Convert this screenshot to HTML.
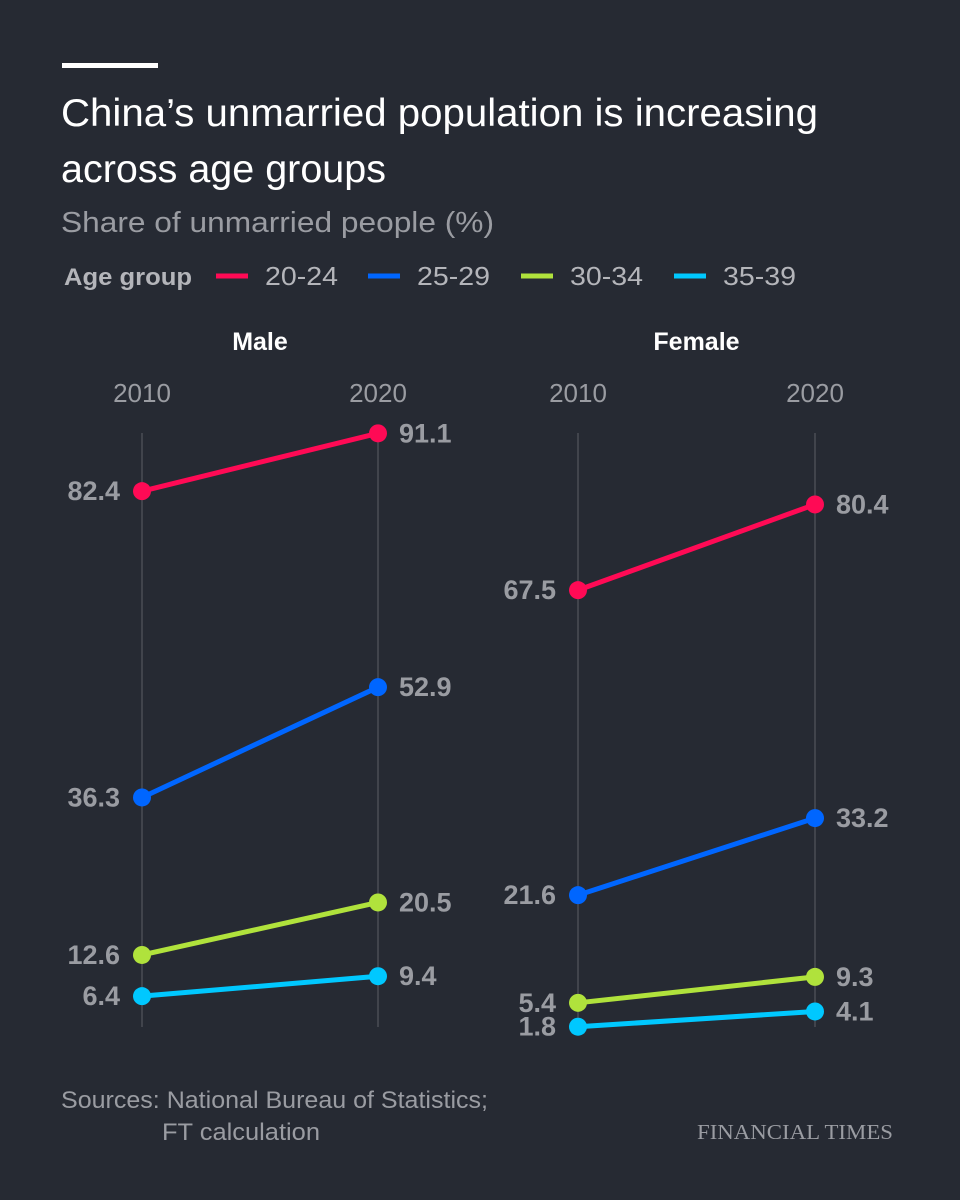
<!DOCTYPE html>
<html><head><meta charset="utf-8"><style>
body{margin:0;background:#262a33;width:960px;height:1200px;overflow:hidden;font-family:"Liberation Sans",sans-serif}
svg{display:block}
</style></head><body>
<svg width="960" height="1200">
<rect x="62" y="63" width="96" height="5" fill="#ffffff"/>
<text x="61" y="126" font-size="39" fill="#ffffff" textLength="757" lengthAdjust="spacingAndGlyphs">China’s unmarried population is increasing</text>
<text x="61" y="182" font-size="39" fill="#ffffff" textLength="325" lengthAdjust="spacingAndGlyphs">across age groups</text>
<text x="61" y="232" font-size="29" fill="#9a9ca2" textLength="433" lengthAdjust="spacingAndGlyphs">Share of unmarried people (%)</text>
<g id="legend">
<text x="64" y="285" font-size="24" font-weight="bold" fill="#b4b5ba" textLength="128" lengthAdjust="spacingAndGlyphs">Age group</text>
</g>
<g id="panels"></g>
<text x="61" y="1108" font-size="24" fill="#9a9ca2" textLength="427" lengthAdjust="spacingAndGlyphs">Sources: National Bureau of Statistics;</text>
<text x="162" y="1140" font-size="24" fill="#9a9ca2" textLength="158" lengthAdjust="spacingAndGlyphs">FT calculation</text>
<text x="697" y="1139" font-size="21" fill="#9a9ca2" textLength="196" lengthAdjust="spacingAndGlyphs" font-family="Liberation Serif, serif">FINANCIAL TIMES</text>
</svg>
<script>
const groups=["20-24","25-29","30-34","35-39"];
const colors=["#ff0a55","#0066ff","#b0e23c","#00c8ff"];
const years=["2010","2020"];
const male2010=[82.4,36.3,12.6,6.4];
const male2020=[91.1,52.9,20.5,9.4];
const female2010=[67.5,21.6,5.4,1.8];
const female2020=[80.4,33.2,9.3,4.1];
const NS="http://www.w3.org/2000/svg";
function mk(tag,attrs,parent,text){const e=document.createElementNS(NS,tag);for(const k in attrs)e.setAttribute(k,attrs[k]);if(text!=null)e.textContent=text;parent.appendChild(e);return e;}
const y=v=>1038.7-v*6.645;
const lg=document.getElementById('legend');
const lx=[216,368,521,674];
groups.forEach((g,i)=>{
 const l=mk('line',{x1:lx[i],x2:lx[i]+32,y1:276,y2:276,stroke:colors[i],'stroke-width':5},lg);
 
 
 const t=mk('text',{x:lx[i]+49,y:285,'font-size':26,fill:'#b4b5ba',textLength:73,lengthAdjust:'spacingAndGlyphs'},lg,g);
 
 
});
const P=document.getElementById('panels');
function panel(name,x0,x1,a,b,key){
 const g=mk('g',{},P);
 
 
 const h=mk('text',{x:(x0+x1)/2,y:350,'font-size':25,'font-weight':'bold',fill:'#ffffff','text-anchor':'middle'},g,name);
 
 
 [x0,x1].forEach((x,j)=>{
  const t=mk('text',{x:x,y:402,'font-size':26,fill:'#9a9ca2','text-anchor':'middle'},g,years[j]);
  
  
  const l=mk('line',{x1:x,x2:x,y1:433,y2:1027,stroke:'#4a4d55','stroke-width':1.5},g);
  
  
 });
 groups.forEach((gr,i)=>{
  const ln=mk('line',{x1:x0,y1:y(a[i]),x2:x1,y2:y(b[i]),stroke:colors[i],'stroke-width':5},g);
  
  
  [[x0,a[i],'end',-22],[x1,b[i],'start',21]].forEach(([x,v,anc,dx],j)=>{
   const c=mk('circle',{cx:x,cy:y(v),r:9,fill:colors[i]},g);
   
   
   const t=mk('text',{x:x+dx,y:y(v)+9,'font-size':27,'font-weight':'bold',fill:'#9a9ca2','text-anchor':anc},g,v.toFixed(1));
   
   
  });
 });
}
panel('Male',142,378,male2010,male2020,'male');
panel('Female',578,815,female2010,female2020,'female');
</script>
</body></html>
